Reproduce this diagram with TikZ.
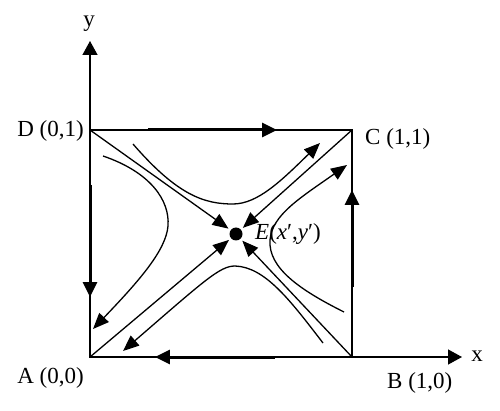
\documentclass[tikz,border=0pt]{standalone}
\usepackage{fontspec}
\setmainfont{Liberation Serif}
\usetikzlibrary{arrows.meta,calc}
\begin{document}
\begin{tikzpicture}[x=1pt,y=-1pt,
  thinline/.style={line width=1.3pt},
  thickarrow/.style={line width=3pt, -{Triangle[length=15pt,width=14pt]}},
  flow/.style={line width=1.3pt, -{Triangle[length=16pt,width=13pt]}},
  axisarrow/.style={line width=1.3pt, -{Triangle[length=14pt,width=15pt]}},
  lbl/.style={font=\fontsize{23}{26}\selectfont, inner sep=0pt}]
\useasboundingbox (0,0) rectangle (500,411);
% corners
\coordinate (A) at (90,357);
\coordinate (B) at (352,357);
\coordinate (C) at (352,130);
\coordinate (D) at (90,130);
\coordinate (yend) at (90,41);
\coordinate (xend) at (462,357);
% axes and square
\draw[axisarrow] (A) -- (yend);
\draw[axisarrow] (A) -- (xend);
\draw[thinline] (A) -- (B) -- (C) -- (D) -- cycle;
% edge arrows
\draw[thickarrow] ($(D)!0.221!(C)$) -- ($(D)!0.714!(C)$);
\draw[thickarrow] ($(D)!0.242!(A)$) -- ($(D)!0.736!(A)$);
\draw[thickarrow] ($(B)!0.294!(A)$) -- ($(B)!0.752!(A)$);
\draw[thickarrow] ($(B)!0.308!(C)$) -- ($(B)!0.736!(C)$);
% equilibrium point
\node[circle, fill, inner sep=0pt, minimum size=13pt] (E) at (236,234) {};
\draw[flow, shorten >=2.5pt] (D) -- (E);
\draw[flow, shorten >=2.5pt] (A) -- (E);
\draw[flow, shorten >=2.5pt] (B) -- (E);
\draw[flow, shorten >=2.5pt] (C) -- (E);
% trajectories
\draw[flow] (133,144) .. controls (178,196) and (205,204) .. (233,204)
            .. controls (258,204) and (282,180) .. (320,143);
\draw[flow] (103,156) .. controls (150,172) and (170,200) .. (168,226)
            .. controls (166,250) and (140,280) .. (93,329);
\draw[flow] (323,343) .. controls (290,300) and (265,267) .. (235,266)
            .. controls (220,266) and (205,280) .. (123,351);
\draw[flow] (344,312) .. controls (300,290) and (268,268) .. (270,240)
            .. controls (272,215) and (300,198) .. (347,165);
% labels
\node[lbl, anchor=east] (Dl) at (84,131) {D (0,1)};
\node[lbl, anchor=east] (Al) at (84,378) {A (0,0)};
\node[lbl, anchor=west] (Bl) at (387,383) {B (1,0)};
\node[lbl, anchor=west] (Cl) at (365,139) {C (1,1)};
\node[lbl] (yl) at (89,24) {y};
\node[lbl] (xl) at (477,356) {x};
\node[lbl, anchor=west] (El) at (255,234) {\textit{E}(\textit{x}′,\textit{y}′)};
\end{tikzpicture}
\end{document}
